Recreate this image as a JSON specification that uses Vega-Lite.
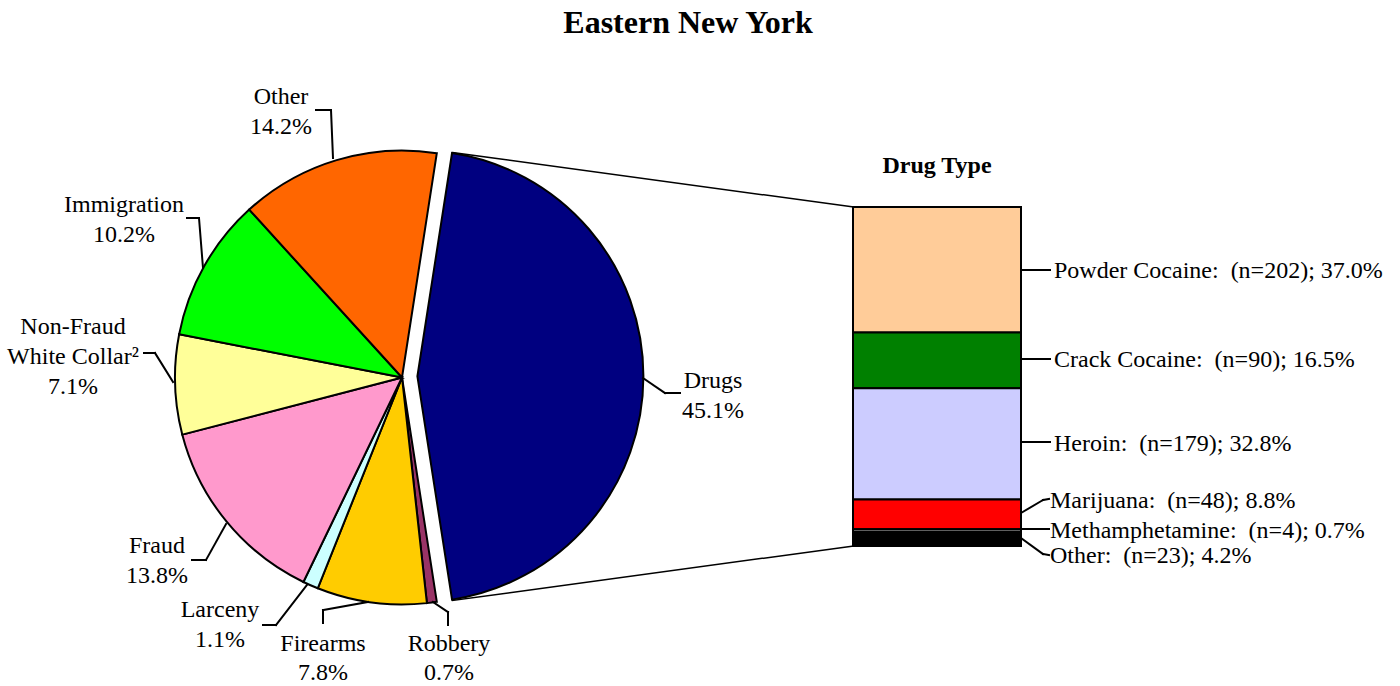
{
  "$schema": "https://vega.github.io/schema/vega-lite/v6.json",
  "width": 1400,
  "height": 686,
  "autosize": {"type": "none"},
  "padding": 0,
  "background": "white",
  "config": {
    "view": {"stroke": null},
    "axis": {"disable": true},
    "legend": {"disable": true},
    "text": {"font": "Liberation Serif", "fontSize": 24, "lineHeight": 30, "color": "black", "align": "center", "baseline": "middle"},
    "rule": {"stroke": "black", "strokeWidth": 2, "strokeCap": "square"}
  },
  "datasets": {
    "offense": [
      {"offense": "Drugs", "pct": 45.1},
      {"offense": "Robbery", "pct": 0.7},
      {"offense": "Firearms", "pct": 7.8},
      {"offense": "Larceny", "pct": 1.1},
      {"offense": "Fraud", "pct": 13.8},
      {"offense": "Non-Fraud White Collar", "pct": 7.1},
      {"offense": "Immigration", "pct": 10.2},
      {"offense": "Other", "pct": 14.2}
    ],
    "drugs": [
      {"drug": "Powder Cocaine", "n": 202, "pct": 37.0},
      {"drug": "Crack Cocaine", "n": 90, "pct": 16.5},
      {"drug": "Heroin", "n": 179, "pct": 32.8},
      {"drug": "Marijuana", "n": 48, "pct": 8.8},
      {"drug": "Methamphetamine", "n": 4, "pct": 0.7},
      {"drug": "Other", "n": 23, "pct": 4.2}
    ],
    "titles": [
      {"title": "Eastern New York", "sub": "Drug Type"}
    ]
  },
  "resolve": {"scale": {"y": "independent", "color": "independent"}},
  "layer": [
    {
      "layer": [
        {
          "data": {"name": "offense"},
          "transform": [
            {"stack": "pct", "groupby": [], "as": ["start", "end"]},
            {"filter": "datum.offense !== 'Drugs'"}
          ],
          "mark": {"type": "arc", "radius": 227, "stroke": "black", "strokeWidth": 2},
          "encoding": {
            "x": {"datum": 402, "type": "quantitative", "scale": {"domain": [0, 1400], "nice": false, "zero": false}, "axis": null},
            "y": {"datum": 377.5, "type": "quantitative", "scale": {"domain": [0, 686], "nice": false, "zero": false, "reverse": true}, "axis": null},
            "theta": {"field": "start", "type": "quantitative", "scale": {"domain": [0, 100], "range": [0.15394, 6.43713]}},
            "theta2": {"field": "end"},
            "color": {
              "field": "offense", "type": "nominal", "legend": null,
              "scale": {
                "domain": ["Drugs", "Robbery", "Firearms", "Larceny", "Fraud", "Non-Fraud White Collar", "Immigration", "Other"],
                "range": ["#000080", "#993366", "#FFCC00", "#CCFFFF", "#FF99CC", "#FFFF99", "#00FF00", "#FF6600"]
              }
            }
          }
        },
        {
          "data": {"name": "offense"},
          "transform": [
            {"stack": "pct", "groupby": [], "as": ["start", "end"]},
            {"filter": "datum.offense === 'Drugs'"}
          ],
          "mark": {"type": "arc", "radius": 226, "stroke": "black", "strokeWidth": 2},
          "encoding": {
            "x": {"datum": 417.4, "type": "quantitative", "axis": null},
            "y": {"datum": 376.3, "type": "quantitative", "axis": null},
            "theta": {"field": "start", "type": "quantitative"},
            "theta2": {"field": "end"},
            "color": {"field": "offense", "type": "nominal", "legend": null}
          }
        },
        {
          "data": {"name": "titles"},
          "layer": [
            {"mark": {"type": "text", "fontSize": 32, "fontWeight": "bold"}, "encoding": {"x": {"datum": 688}, "y": {"datum": 23}, "text": {"field": "title"}}},
            {"mark": {"type": "text", "fontSize": 24, "fontWeight": "bold"}, "encoding": {"x": {"datum": 937}, "y": {"datum": 166}, "text": {"field": "sub"}}}
          ]
        },
        {
          "data": {"name": "offense"},
          "transform": [{"filter": "datum.offense === 'Drugs'"}, {"calculate": "[datum.offense, format(datum.pct, '.1f') + '%']", "as": "lbl"}],
          "layer": [
            {"mark": {"type": "rule", "strokeWidth": 1.5}, "encoding": {"x": {"datum": 452.5}, "y": {"datum": 152.5}, "x2": {"datum": 853}, "y2": {"datum": 207}}},
            {"mark": {"type": "rule", "strokeWidth": 1.5}, "encoding": {"x": {"datum": 452.5}, "y": {"datum": 600.5}, "x2": {"datum": 853}, "y2": {"datum": 546}}},
            {"mark": "rule", "encoding": {"x": {"datum": 643}, "y": {"datum": 378}, "x2": {"datum": 665}, "y2": {"datum": 393}}},
            {"mark": "rule", "encoding": {"x": {"datum": 665}, "y": {"datum": 393}, "x2": {"datum": 680}, "y2": {"datum": 393}}},
            {"mark": "text", "encoding": {"x": {"datum": 713}, "y": {"datum": 381}, "text": {"field": "lbl"}}}
          ]
        },
        {
          "data": {"name": "offense"},
          "transform": [{"filter": "datum.offense === 'Other'"}, {"calculate": "[datum.offense, format(datum.pct, '.1f') + '%']", "as": "lbl"}],
          "layer": [
            {"mark": "rule", "encoding": {"x": {"datum": 333}, "y": {"datum": 158}, "x2": {"datum": 331}, "y2": {"datum": 110}}},
            {"mark": "rule", "encoding": {"x": {"datum": 331}, "y": {"datum": 110}, "x2": {"datum": 316}, "y2": {"datum": 110}}},
            {"mark": "text", "encoding": {"x": {"datum": 281}, "y": {"datum": 97}, "text": {"field": "lbl"}}}
          ]
        },
        {
          "data": {"name": "offense"},
          "transform": [{"filter": "datum.offense === 'Immigration'"}, {"calculate": "[datum.offense, format(datum.pct, '.1f') + '%']", "as": "lbl"}],
          "layer": [
            {"mark": "rule", "encoding": {"x": {"datum": 203}, "y": {"datum": 268}, "x2": {"datum": 199}, "y2": {"datum": 218}}},
            {"mark": "rule", "encoding": {"x": {"datum": 199}, "y": {"datum": 218}, "x2": {"datum": 187}, "y2": {"datum": 218}}},
            {"mark": "text", "encoding": {"x": {"datum": 124}, "y": {"datum": 205}, "text": {"field": "lbl"}}}
          ]
        },
        {
          "data": {"name": "offense"},
          "transform": [{"filter": "datum.offense === 'Non-Fraud White Collar'"}, {"calculate": "['Non-Fraud', 'White Collar\u00b2', format(datum.pct, '.1f') + '%']", "as": "lbl"}],
          "layer": [
            {"mark": "rule", "encoding": {"x": {"datum": 173}, "y": {"datum": 382}, "x2": {"datum": 155}, "y2": {"datum": 353}}},
            {"mark": "rule", "encoding": {"x": {"datum": 155}, "y": {"datum": 353}, "x2": {"datum": 144}, "y2": {"datum": 353}}},
            {"mark": "text", "encoding": {"x": {"datum": 73}, "y": {"datum": 327}, "text": {"field": "lbl"}}}
          ]
        },
        {
          "data": {"name": "offense"},
          "transform": [{"filter": "datum.offense === 'Fraud'"}, {"calculate": "[datum.offense, format(datum.pct, '.1f') + '%']", "as": "lbl"}],
          "layer": [
            {"mark": "rule", "encoding": {"x": {"datum": 226}, "y": {"datum": 524}, "x2": {"datum": 206}, "y2": {"datum": 560}}},
            {"mark": "rule", "encoding": {"x": {"datum": 206}, "y": {"datum": 560}, "x2": {"datum": 192}, "y2": {"datum": 560}}},
            {"mark": "text", "encoding": {"x": {"datum": 157}, "y": {"datum": 546}, "text": {"field": "lbl"}}}
          ]
        },
        {
          "data": {"name": "offense"},
          "transform": [{"filter": "datum.offense === 'Larceny'"}, {"calculate": "[datum.offense, format(datum.pct, '.1f') + '%']", "as": "lbl"}],
          "layer": [
            {"mark": "rule", "encoding": {"x": {"datum": 307}, "y": {"datum": 585}, "x2": {"datum": 276}, "y2": {"datum": 625}}},
            {"mark": "rule", "encoding": {"x": {"datum": 276}, "y": {"datum": 625}, "x2": {"datum": 263}, "y2": {"datum": 625}}},
            {"mark": "text", "encoding": {"x": {"datum": 220}, "y": {"datum": 610}, "text": {"field": "lbl"}}}
          ]
        },
        {
          "data": {"name": "offense"},
          "transform": [{"filter": "datum.offense === 'Firearms'"}, {"calculate": "[datum.offense, format(datum.pct, '.1f') + '%']", "as": "lbl"}],
          "layer": [
            {"mark": "rule", "encoding": {"x": {"datum": 368}, "y": {"datum": 602}, "x2": {"datum": 323}, "y2": {"datum": 610}}},
            {"mark": "rule", "encoding": {"x": {"datum": 323}, "y": {"datum": 610}, "x2": {"datum": 323}, "y2": {"datum": 623}}},
            {"mark": {"type": "text", "lineHeight": 29}, "encoding": {"x": {"datum": 323}, "y": {"datum": 644}, "text": {"field": "lbl"}}}
          ]
        },
        {
          "data": {"name": "offense"},
          "transform": [{"filter": "datum.offense === 'Robbery'"}, {"calculate": "[datum.offense, format(datum.pct, '.1f') + '%']", "as": "lbl"}],
          "layer": [
            {"mark": "rule", "encoding": {"x": {"datum": 433}, "y": {"datum": 602}, "x2": {"datum": 448}, "y2": {"datum": 612}}},
            {"mark": "rule", "encoding": {"x": {"datum": 448}, "y": {"datum": 612}, "x2": {"datum": 448}, "y2": {"datum": 625}}},
            {"mark": {"type": "text", "lineHeight": 29}, "encoding": {"x": {"datum": 449}, "y": {"datum": 644}, "text": {"field": "lbl"}}}
          ]
        },
        {
          "data": {"name": "drugs"},
          "transform": [{"calculate": "datum.drug + ':\u00a0 (n=' + datum.n + '); ' + format(datum.pct, '.1f') + '%'", "as": "lbl"}],
          "layer": [
            {"transform": [{"filter": "datum.drug === 'Powder Cocaine'"}], "layer": [
              {"mark": "rule", "encoding": {"x": {"datum": 1021}, "y": {"datum": 270}, "x2": {"datum": 1050}, "y2": {"datum": 270}}},
              {"mark": {"type": "text", "align": "left"}, "encoding": {"x": {"datum": 1054}, "y": {"datum": 271}, "text": {"field": "lbl"}}}
            ]},
            {"transform": [{"filter": "datum.drug === 'Crack Cocaine'"}], "layer": [
              {"mark": "rule", "encoding": {"x": {"datum": 1021}, "y": {"datum": 359}, "x2": {"datum": 1050}, "y2": {"datum": 359}}},
              {"mark": {"type": "text", "align": "left"}, "encoding": {"x": {"datum": 1054}, "y": {"datum": 360}, "text": {"field": "lbl"}}}
            ]},
            {"transform": [{"filter": "datum.drug === 'Heroin'"}], "layer": [
              {"mark": "rule", "encoding": {"x": {"datum": 1021}, "y": {"datum": 442}, "x2": {"datum": 1050}, "y2": {"datum": 442}}},
              {"mark": {"type": "text", "align": "left"}, "encoding": {"x": {"datum": 1054}, "y": {"datum": 443.5}, "text": {"field": "lbl"}}}
            ]},
            {"transform": [{"filter": "datum.drug === 'Marijuana'"}], "layer": [
              {"mark": "rule", "encoding": {"x": {"datum": 1021}, "y": {"datum": 513}, "x2": {"datum": 1043}, "y2": {"datum": 500}}},
              {"mark": "rule", "encoding": {"x": {"datum": 1043}, "y": {"datum": 500}, "x2": {"datum": 1049}, "y2": {"datum": 499}}},
              {"mark": {"type": "text", "align": "left"}, "encoding": {"x": {"datum": 1050}, "y": {"datum": 501}, "text": {"field": "lbl"}}}
            ]},
            {"transform": [{"filter": "datum.drug === 'Methamphetamine'"}], "layer": [
              {"mark": "rule", "encoding": {"x": {"datum": 1021}, "y": {"datum": 529}, "x2": {"datum": 1049}, "y2": {"datum": 529}}},
              {"mark": {"type": "text", "align": "left"}, "encoding": {"x": {"datum": 1050}, "y": {"datum": 530.5}, "text": {"field": "lbl"}}}
            ]},
            {"transform": [{"filter": "datum.drug === 'Other'"}], "layer": [
              {"mark": "rule", "encoding": {"x": {"datum": 1021}, "y": {"datum": 538}, "x2": {"datum": 1043}, "y2": {"datum": 554}}},
              {"mark": "rule", "encoding": {"x": {"datum": 1043}, "y": {"datum": 554}, "x2": {"datum": 1049}, "y2": {"datum": 555}}},
              {"mark": {"type": "text", "align": "left"}, "encoding": {"x": {"datum": 1050}, "y": {"datum": 556}, "text": {"field": "lbl"}}}
            ]}
          ]
        }
      ]
    },
    {
      "data": {"name": "drugs"},
      "transform": [{"stack": "n", "groupby": [], "as": ["s0", "s1"]}],
      "mark": {"type": "rect", "stroke": "black", "strokeWidth": 2},
      "encoding": {
        "x": {"datum": 853, "type": "quantitative", "axis": null},
        "x2": {"datum": 1021},
        "y": {"field": "s0", "type": "quantitative", "scale": {"domain": [0, 546], "range": [207, 546], "nice": false, "zero": false}, "axis": null},
        "y2": {"field": "s1"},
        "color": {
          "field": "drug", "type": "nominal", "legend": null,
          "scale": {
            "domain": ["Powder Cocaine", "Crack Cocaine", "Heroin", "Marijuana", "Methamphetamine", "Other"],
            "range": ["#FFCC99", "#008000", "#CCCCFF", "#FF0000", "#FFFFFF", "#000000"]
          }
        }
      }
    }
  ]
}
